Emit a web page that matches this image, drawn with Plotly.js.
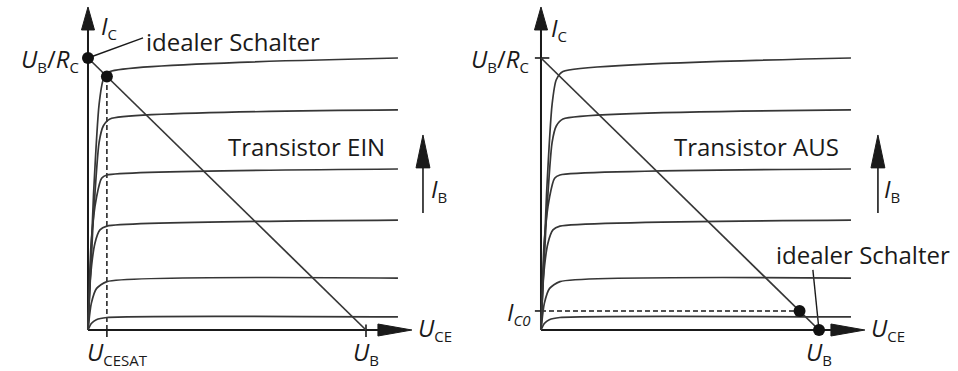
<!DOCTYPE html>
<html>
<head>
<meta charset="utf-8">
<script src="https://cdn.plot.ly/plotly-3.0.1.min.js"></script>
<style>
  html, body { margin: 0; padding: 0; background: #fff; }
  #chart { width: 958px; height: 371px; }
</style>
</head>
<body>
<div id="chart"></div>
<script>
// Transistor as a switch: output characteristics I_C(U_CE) with load line.
// Units: U_CE in fractions of U_B (U_B = 10), I_C in fractions of U_B/R_C (= 10).
const UB = 10;      // supply voltage U_B
const IMAX = 10;    // U_B / R_C
const UCESAT = 0.68; // saturation voltage U_CESAT
const IC0 = 0.70;    // residual collector current I_C0

// One characteristic per base current step, from lowest to highest I_B
const ib1U = [0, 0.12, 0.3, 0.68, 11.15];
const ib1I = [0, 0.24, 0.38, 0.46, 0.48];
const ib2U = [0, 0.12, 0.31, 0.68, 11.15];
const ib2I = [0, 0.98, 1.53, 1.78, 1.91];
const ib3U = [0, 0.08, 0.25, 0.43, 0.68, 11.15];
const ib3I = [0, 1.84, 3.19, 3.68, 3.82, 4.04];
const ib4U = [0, 0.12, 0.31, 0.49, 0.68, 11.15];
const ib4I = [0, 3.31, 4.9, 5.58, 5.70, 5.92];
const ib5U = [0, 0.2, 0.4, 0.55, 0.79, 11.15];
const ib5I = [0, 4.2, 6.9, 7.5, 7.76, 8.09];
const ib6U = [0, 0.2, 0.4, 0.55, 0.79, 11.15];
const ib6I = [0, 5.0, 8.3, 9.2, 9.5, 10.0];

const curvesU = [ib1U, ib2U, ib3U, ib4U, ib5U, ib6U];
const curvesI = [ib1I, ib2I, ib3I, ib4I, ib5I, ib6I];

// Load line from (0, U_B/R_C) to (U_B, 0)
const loadU = [0, UB];
const loadI = [IMAX, 0];
const loadAt = u => IMAX * (1 - u / UB);
const uAt = i => UB * (1 - i / IMAX);

// Operating points
const onU = [0, UCESAT];                 // ideal switch, real transistor (ON)
const onI = [IMAX, loadAt(UCESAT)];
const offU = [UB, uAt(IC0)];             // ideal switch, real transistor (OFF)
const offI = [0, IC0];

const AX = '#1a1a1a';
const LN = '#363636';
const FONT = 'Open Sans, DejaVu Sans, sans-serif';

const traces = [];
function addPanel(xa) {
  curvesU.forEach((u, k) => {
    traces.push({
      x: u, y: curvesI[k], xaxis: xa, yaxis: 'y', mode: 'lines',
      line: { color: LN, width: 1.7, shape: 'spline', smoothing: 0.6 },
      hoverinfo: 'skip'
    });
  });
  traces.push({
    x: loadU, y: loadI, xaxis: xa, yaxis: 'y', mode: 'lines',
    line: { color: LN, width: 1.7 }, hoverinfo: 'skip'
  });
}
addPanel('x');
addPanel('x2');
traces.push({ x: onU, y: onI, xaxis: 'x', yaxis: 'y', mode: 'markers',
  marker: { color: '#111', size: 12 }, hoverinfo: 'skip' });
traces.push({ x: offU, y: offI, xaxis: 'x2', yaxis: 'y', mode: 'markers',
  marker: { color: '#111', size: 12 }, hoverinfo: 'skip' });

// Axis geometry (in data units)
const X_TIP = 11.65, X_BASE = 10.43, X_HALF = 0.22;
const Y_TIP = 11.875, Y_BASE = 11.03, Y_HALF = 0.234;
const IB_TIP = 7.17, IB_BASE = 5.96, IB_END = 4.30, IB_HALF = 0.25;

const shapes = [];
function line(xr, x0, y0, x1, y1, opts) {
  shapes.push(Object.assign({ type: 'line', xref: xr, yref: 'y', layer: 'below',
    x0, y0, x1, y1, line: { color: AX, width: 2 } }, opts || {}));
}
function tri(xr, path) {
  shapes.push({ type: 'path', xref: xr, yref: 'y', layer: 'below', path,
    fillcolor: AX, line: { color: AX, width: 1 } });
}
function axes(xr, ibX) {
  line(xr, 0, 0, 0, Y_BASE);
  tri(xr, `M ${-Y_HALF},${Y_BASE} L 0,${Y_TIP} L ${Y_HALF},${Y_BASE} Z`);
  line(xr, 0, 0, X_BASE, 0);
  tri(xr, `M ${X_BASE},${-X_HALF} L ${X_TIP},0 L ${X_BASE},${X_HALF} Z`);
  line(xr, ibX, IB_END, ibX, IB_BASE, { line: { color: AX, width: 1.6 } });
  tri(xr, `M ${ibX - IB_HALF},${IB_BASE} L ${ibX},${IB_TIP} L ${ibX + IB_HALF},${IB_BASE} Z`);
}
axes('x', 12.05);
axes('x2', 12.12);

const DASH = { color: AX, width: 1.5, dash: '5px,3px' };
// Left: U_B tick, U_CESAT marker, pointer to ideal switch
line('x', UB, -0.26, UB, 0.2, { line: { color: AX, width: 1.6 } });
line('x', UCESAT, 0, UCESAT, onI[1], { line: DASH });
line('x', UCESAT, -0.26, UCESAT, 0, { line: { color: AX, width: 1.6 } });
line('x', 0, IMAX, 1.98, 10.74, { line: { color: AX, width: 1.4 } });

// Right: U_B/R_C tick, I_C0 marker, pointer to ideal switch
line('x2', -0.22, IMAX, 0.3, IMAX, { line: { color: AX, width: 1.6 } });
line('x2', 0, IC0, offU[1], IC0, { line: DASH });
line('x2', -0.22, IC0, 0, IC0, { line: { color: AX, width: 1.6 } });
line('x2', UB, 0, 9.78, 2.21, { line: { color: AX, width: 1.4 } });

// Symbol with a smaller subscript
const sub = s => `<sub><span style="font-size:15px">${s}</span></sub>`;
function label(xr, x, y, text, xanchor, yanchor) {
  return { xref: xr, yref: 'y', x, y, text, showarrow: false,
    xanchor: xanchor || 'left', yanchor: yanchor || 'middle', borderpad: 0,
    font: { family: FONT, size: 24, color: '#1a1a1a' } };
}
const annotations = [
  label('x', 0.43, 11.14, '<i>I</i>' + sub('C')),
  label('x', -0.29, 9.93, '<i>U</i>' + sub('B') + '/<i>R</i>' + sub('C'), 'right'),
  label('x', 2.05, 10.59, 'idealer Schalter'),
  label('x', 5.0, 6.76, 'Transistor EIN'),
  label('x', 12.3, 5.15, '<i>I</i>' + sub('B')),
  label('x', 11.83, 0.07, '<i>U</i>' + sub('CE')),
  label('x', UB, -0.82, '<i>U</i>' + sub('B'), 'center'),
  label('x', -0.07, -0.82, '<i>U</i>' + sub('CESAT')),

  label('x2', 0.32, 11.1, '<i>I</i>' + sub('C')),
  label('x2', -0.4, 9.93, '<i>U</i>' + sub('B') + '/<i>R</i>' + sub('C'), 'right'),
  label('x2', 4.75, 6.76, 'Transistor AUS'),
  label('x2', 12.3, 5.15, '<i>I</i>' + sub('B')),
  label('x2', 8.42, 2.79, 'idealer Schalter'),
  label('x2', -0.32, 0.66, '<i>I</i>' + sub('<i>C0</i>'), 'right'),
  label('x2', 11.83, 0.07, '<i>U</i>' + sub('CE')),
  label('x2', UB, -0.82, '<i>U</i>' + sub('B'), 'center')
];

const yRange = [-1.507, 12.132];
const layout = {
  width: 958, height: 371,
  margin: { l: 0, r: 0, t: 0, b: 0 },
  paper_bgcolor: '#fff', plot_bgcolor: '#fff',
  showlegend: false,
  xaxis: { domain: [0, 0.5], range: [-3.165, 14.065], visible: false, fixedrange: true },
  xaxis2: { domain: [0.5, 1], range: [-2.230, 15.0], visible: false, fixedrange: true },
  yaxis: { domain: [0, 1], range: yRange, visible: false, fixedrange: true },
  shapes, annotations
};

Plotly.newPlot('chart', traces, layout, { staticPlot: true, displayModeBar: false });
</script>
</body>
</html>
